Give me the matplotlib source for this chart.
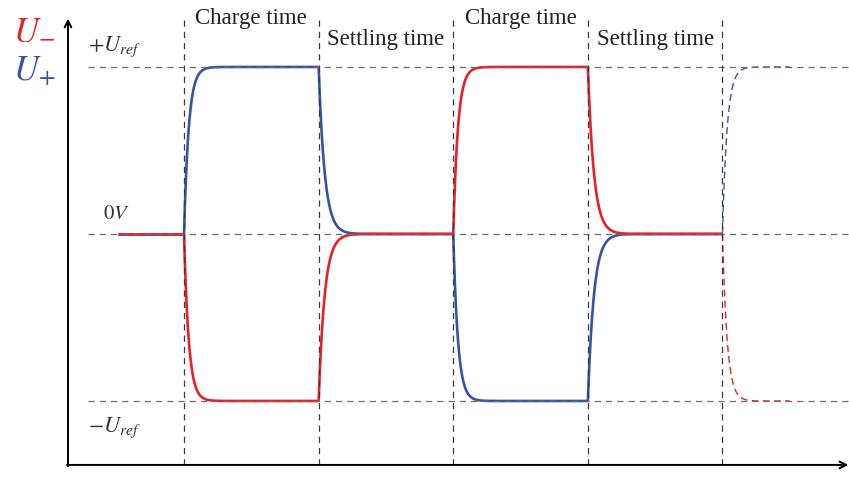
import numpy as np
import matplotlib.pyplot as plt

plt.rcParams['mathtext.fontset'] = 'stix'
plt.rcParams['font.family'] = ['Liberation Serif', 'DejaVu Serif']

# fases: limites de tiempo (en unidades de fase) y niveles de cada señal
fase_inicio = [0.51, 1, 2, 3, 4, 5]
fase_fin = [1, 2, 3, 4, 5, 5.5]
nivel_u_mas = [0, 1, 0, -1, 0, 1]
nivel_u_menos = [0, -1, 0, 1, 0, -1]
tau_fase = [0.035, 0.035, 0.045, 0.035, 0.045, 0.035]
etiquetas_fase = ["Charge time", "Settling time", "Charge time", "Settling time"]
centros_fase = [1.5, 2.5, 3.5, 4.5]
altura_etiqueta = [1.293, 1.162, 1.293, 1.162]
lineas_v = [1, 2, 3, 4, 5]
niveles_h = [1, 0, -1]

rojo = '#e8202a'
azul = '#3953a4'


def curva(niveles, i):
    t = np.linspace(fase_inicio[i], fase_fin[i], 300)
    previo = niveles[i - 1] if i > 0 else niveles[0]
    y = niveles[i] + (previo - niveles[i]) * np.exp(-(t - fase_inicio[i]) / tau_fase[i])
    return t, y


fig = plt.figure(figsize=(8.49, 4.97), dpi=100)
ax = fig.add_axes([0, 0, 1, 1])
ax.set_xlim(-0.367, 5.94)
ax.set_ylim(-1.575, 1.401)
ax.axis('off')

# señales
for niveles, color in [(nivel_u_mas, azul), (nivel_u_menos, rojo)]:
    for i in range(len(fase_inicio)):
        t, y = curva(niveles, i)
        if i == len(fase_inicio) - 1:
            ax.plot(t, y, color=color, lw=1.0, ls=(0, (5, 3)), zorder=3)
        else:
            ax.plot(t, y, color=color, lw=1.9, zorder=3, solid_capstyle='butt')

# lineas punteadas de referencia
for nv in niveles_h:
    ax.plot([0.29, 5.93], [nv, nv], color='#6e6e6e', lw=0.9, ls=(0, (5, 4)), zorder=4)
for lv in lineas_v:
    ax.plot([lv, lv], [-1.383, 1.31], color='#3a3a3a', lw=0.9, ls=(0, (5, 4)), zorder=4)

# ejes con flecha
ax.annotate('', xy=(5.935, -1.383), xytext=(0.13, -1.383), annotation_clip=False,
            arrowprops=dict(arrowstyle='->', lw=1.4, color='black', mutation_scale=12,
                            shrinkA=0, shrinkB=0), zorder=5)
ax.annotate('', xy=(0.138, 1.29), xytext=(0.138, -1.39), annotation_clip=False,
            arrowprops=dict(arrowstyle='->', lw=1.4, color='black', mutation_scale=12,
                            shrinkA=0, shrinkB=0), zorder=5)

# textos
for txt, cx, cy in zip(etiquetas_fase, centros_fase, altura_etiqueta):
    ax.text(cx, cy, txt, ha='center', va='center', fontsize=16.5, color='#222222')

ax.text(0.29, 1.12, r'$+U_{ref}$', fontsize=16, ha='left', va='center', color='#333333')
ax.text(0.40, 0.115, r'$0V$', fontsize=15, ha='left', va='center', color='#333333')
ax.text(0.29, -1.16, r'$-U_{ref}$', fontsize=16, ha='left', va='center', color='#333333')
ax.text(-0.27, 1.22, r'$U_{-}$', fontsize=25, ha='left', va='center', color=rojo)
ax.text(-0.27, 0.97, r'$U_{+}$', fontsize=25, ha='left', va='center', color=azul)

plt.savefig('out.png', dpi=100)
